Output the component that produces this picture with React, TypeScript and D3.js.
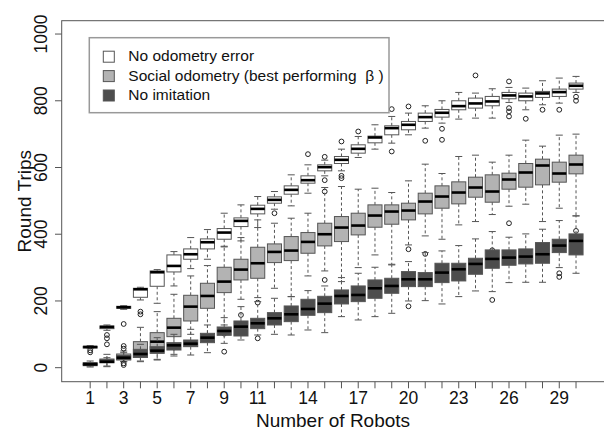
import React from 'react';
import * as d3 from 'd3';

// ---------- data ----------
const robots = d3.range(1, 31);
const xTickLabels = [1, 3, 5, 7, 9, 11, 14, 17, 20, 23, 26, 29];
const yTicks = [0, 200, 400, 600, 800, 1000];
const seriesNames = ['No odometry error', 'Social odometry (best performing', 'No imitation'];

// No odometry error (white)
const whiteLo = [57, 112, 175, 203, 193, 245, 297, 325, 362, 380, 420, 475, 485, 523, 575, 590, 630, 655, 673, 698, 718, 733, 745, 748, 748, 795, 773, 788, 793, 825];
const whiteQ1 = [59, 117, 178, 211, 244, 287, 325, 356, 385, 423, 461, 493, 520, 553, 590, 612, 643, 674, 698, 713, 738, 751, 773, 778, 785, 806, 800, 810, 813, 835];
const whiteMed = [62, 122, 181, 235, 286, 305, 340, 376, 405, 440, 476, 503, 533, 562, 601, 623, 656, 690, 718, 728, 751, 764, 784, 792, 798, 816, 813, 822, 826, 845];
const whiteQ3 = [64, 125, 184, 238, 290, 338, 356, 386, 417, 449, 487, 512, 545, 575, 608, 633, 668, 694, 725, 738, 763, 774, 800, 808, 813, 825, 823, 828, 835, 853];
const whiteHi = [66, 128, 186, 241, 294, 348, 390, 414, 463, 488, 513, 528, 578, 608, 622, 655, 693, 728, 753, 763, 785, 800, 825, 823, 836, 840, 838, 860, 868, 873];
const whiteOut = [[52, 46], [98, 88, 70], [131], [168, 160], [], [], [], [], [], [], [], [463], [], [640], [632, 562, 528], [678, 575, 568], [708], [], [775, 648], [783], [680], [716, 683], [], [876], [], [858, 778, 768, 753], [746], [773], [773], [812, 800]];

// Social odometry (light grey)
const greyLo = [2, 3, 18, 18, 25, 40, 100, 95, 128, 205, 210, 238, 213, 275, 290, 258, 300, 338, 310, 368, 395, 385, 428, 438, 459, 484, 490, 438, 478, 455];
const greyQ1 = [6, 15, 25, 31, 53, 93, 140, 178, 225, 263, 268, 315, 321, 343, 365, 378, 398, 421, 430, 443, 461, 478, 491, 511, 496, 535, 541, 548, 556, 581];
const greyMed = [11, 20, 33, 48, 78, 120, 183, 215, 258, 294, 313, 347, 351, 377, 400, 420, 426, 456, 468, 471, 498, 513, 525, 540, 528, 564, 585, 606, 582, 609];
const greyQ3 = [15, 26, 41, 78, 105, 148, 217, 253, 301, 325, 361, 371, 393, 405, 433, 453, 463, 488, 488, 493, 523, 545, 557, 571, 578, 583, 612, 625, 616, 637];
const greyHi = [20, 40, 50, 121, 168, 220, 275, 306, 364, 390, 443, 433, 448, 463, 540, 543, 535, 538, 525, 560, 610, 582, 633, 637, 616, 637, 682, 664, 697, 700];
const greyOut = [[], [], [65, 57], [], [], [], [], [], [102], [158], [195], [], [152], [], [], [], [], [], [], [355], [341], [], [], [], [352], [433], [], [], [], [410]];

// No imitation (dark grey)
const darkLo = [5, 5, 18, 20, 23, 35, 38, 45, 73, 83, 98, 100, 98, 113, 105, 153, 143, 153, 163, 200, 201, 191, 213, 230, 228, 255, 256, 256, 300, 283];
const darkQ1 = [9, 15, 23, 31, 43, 53, 63, 75, 97, 95, 117, 128, 138, 157, 165, 191, 198, 208, 223, 243, 243, 255, 260, 280, 298, 307, 311, 313, 345, 338];
const darkMed = [10, 18, 30, 41, 51, 67, 72, 90, 110, 123, 133, 148, 160, 176, 192, 215, 218, 238, 245, 265, 265, 285, 295, 311, 326, 330, 333, 340, 366, 380];
const darkQ3 = [11, 23, 36, 55, 63, 75, 83, 103, 122, 140, 148, 165, 185, 205, 214, 233, 245, 263, 268, 288, 285, 313, 313, 328, 353, 353, 356, 375, 385, 401];
const darkHi = [14, 30, 45, 70, 90, 100, 115, 128, 150, 183, 198, 208, 213, 231, 245, 270, 283, 301, 308, 318, 345, 350, 366, 386, 408, 391, 401, 415, 441, 455];
const darkOut = [[], [], [13, 8], [], [], [], [], [], [48], [], [88], [], [], [], [263], [], [], [], [], [184], [], [], [], [], [203], [], [], [], [283, 272], []];

const seriesFills = ['#ffffff', '#b3b3b3', '#4d4d4d'];

type S = { lo: number[]; q1: number[]; med: number[]; q3: number[]; hi: number[]; out: number[][]; fill: string };
const series: S[] = [
  { lo: whiteLo, q1: whiteQ1, med: whiteMed, q3: whiteQ3, hi: whiteHi, out: whiteOut, fill: seriesFills[0] },
  { lo: greyLo, q1: greyQ1, med: greyMed, q3: greyQ3, hi: greyHi, out: greyOut, fill: seriesFills[1] },
  { lo: darkLo, q1: darkQ1, med: darkMed, q3: darkQ3, hi: darkHi, out: darkOut, fill: seriesFills[2] },
];

const W = 604;
const H = 431;
const FONT = '"Liberation Sans", Arial, Helvetica, sans-serif';

export default function App() {
  const x = d3.scaleLinear().domain([-0.7, 31.7]).range([61.7, 604.5]);
  const y = d3.scaleLinear().domain([-42, 1040]).range([381.7, 20.7]);
  const half = (x(1) - x(0)) * 0.42;
  const cap = half * 0.5;
  const edge = '#555';

  return (
    <svg width={W} height={H} style={{ position: 'absolute', left: 0, top: 0, background: '#fff' }} fontFamily={FONT}>
      <rect x={0} y={0} width={W} height={H} fill="#fff" />
      {series.map((s, si) => (
        <g key={si}>
          {robots.map((n, i) => {
            const cx = x(n);
            return (
              <g key={n}>
                <line x1={cx} x2={cx} y1={y(s.q3[i])} y2={y(s.hi[i])} stroke={edge} strokeDasharray="3,2.5" />
                <line x1={cx} x2={cx} y1={y(s.q1[i])} y2={y(s.lo[i])} stroke={edge} strokeDasharray="3,2.5" />
                <line x1={cx - cap} x2={cx + cap} y1={y(s.hi[i])} y2={y(s.hi[i])} stroke={edge} />
                <line x1={cx - cap} x2={cx + cap} y1={y(s.lo[i])} y2={y(s.lo[i])} stroke={edge} />
                <rect x={cx - half} width={half * 2} y={y(s.q3[i])} height={Math.max(0.5, y(s.q1[i]) - y(s.q3[i]))} fill={s.fill} stroke={edge} strokeWidth={1} />
                <line x1={cx - half} x2={cx + half} y1={y(s.med[i])} y2={y(s.med[i])} stroke="#000" strokeWidth={2.6} />
                {s.out[i].map((v, k) => (
                  <circle key={k} cx={cx} cy={y(v)} r={2.4} fill="none" stroke="#222" strokeWidth={1} />
                ))}
              </g>
            );
          })}
        </g>
      ))}

      {/* frame */}
      <rect x={61.7} y={20.7} width={543} height={361} fill="none" stroke="#555" strokeWidth={1} />

      {/* y axis */}
      {yTicks.map((t) => (
        <g key={t}>
          <line x1={55} x2={61.7} y1={y(t)} y2={y(t)} stroke="#555" />
          <text transform={`translate(47,${y(t)}) rotate(-90)`} textAnchor="middle" fontSize={17.5} fill="#111">{t}</text>
        </g>
      ))}
      <text transform={`translate(31,${(20.7 + 381.7) / 2}) rotate(-90)`} textAnchor="middle" fontSize={19} fill="#111">Round Trips</text>

      {/* x axis */}
      {robots.map((n) => (
        <line key={n} x1={x(n)} x2={x(n)} y1={381.7} y2={388.3} stroke="#555" />
      ))}
      {xTickLabels.map((n) => (
        <text key={n} x={x(n)} y={404} textAnchor="middle" fontSize={17.5} fill="#111">{n}</text>
      ))}
      <text x={333} y={427} textAnchor="middle" fontSize={19} fill="#111">Number of Robots</text>

      {/* legend */}
      <rect x={89.3} y={37.7} width={299.7} height={75} fill="#fff" stroke="#999" strokeWidth={1.5} />
      {seriesNames.map((name, i) => (
        <g key={name}>
          <rect x={103.3} y={51.2 + i * 19.4} width={11} height={11} fill={seriesFills[i]} stroke={edge} />
          <text x={128.3} y={61.3 + i * 19.4} fontSize={15.5} fill="#111">
            {name}
            {i === 1 ? <tspan>{'\u00a0\u00a0\u03b2\u00a0)'}</tspan> : null}
          </text>
        </g>
      ))}
    </svg>
  );
}
